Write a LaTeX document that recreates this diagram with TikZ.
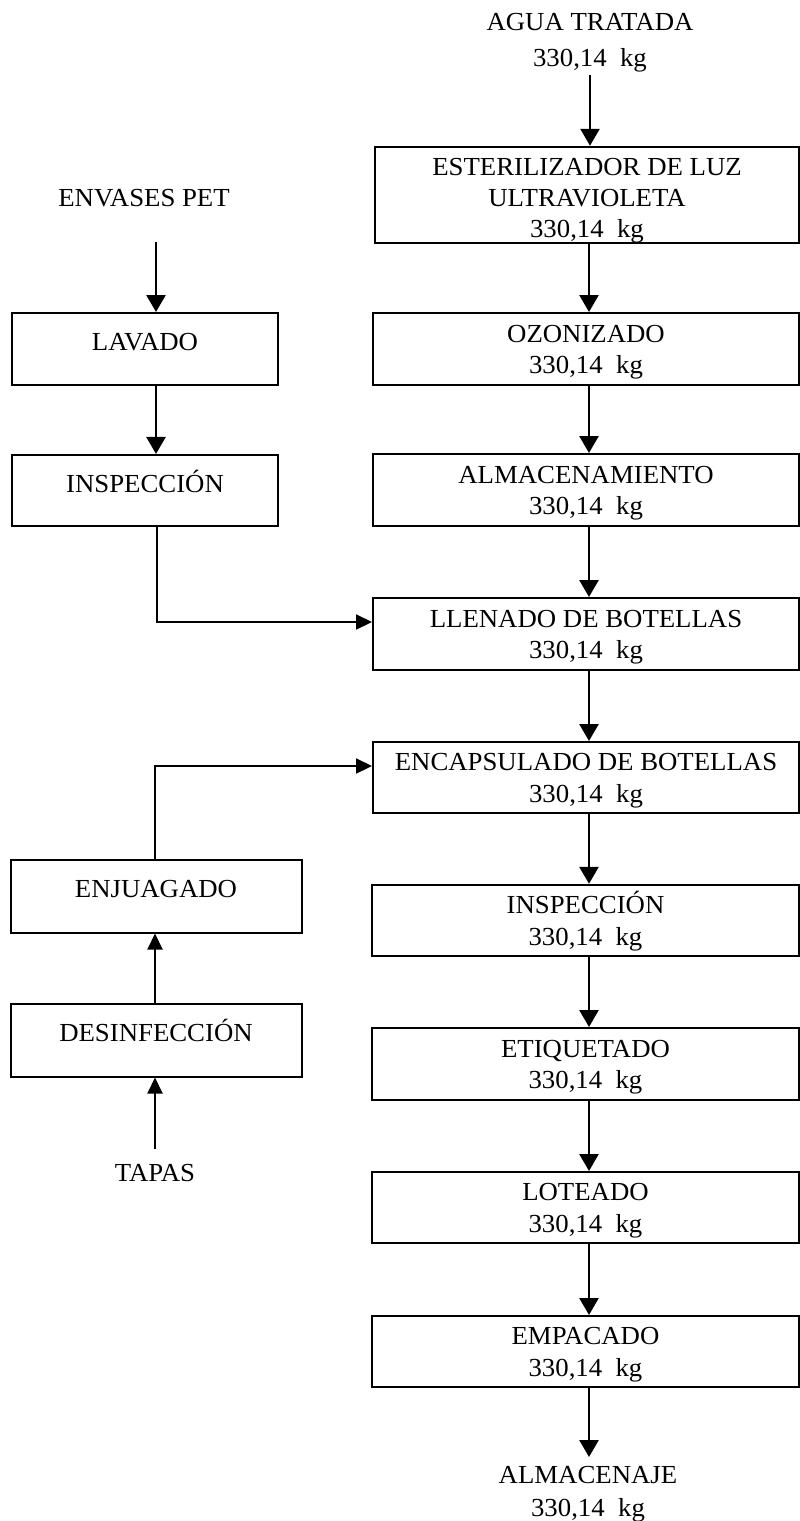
\documentclass[tikz,border=0pt]{standalone}
\usepackage{fontspec}
\setmainfont{Liberation Serif}[FakeStretch=1.03]
\usetikzlibrary{arrows.meta}
% centred lines of text: #1 line spacing, #2 vertical ink offset, #3 the lines
\newcommand{\flowlines}[3]{\raisebox{#2}[\height][\depth]{\fontsize{26}{#1}\selectfont\begin{tabular}{@{}c@{}}#3\end{tabular}}}
\begin{document}
\begin{tikzpicture}[x=1pt,y=-1pt,
  every node/.style={inner sep=0pt},
  procbox/.style={draw, line width=2pt, rectangle},
  rbox/.style={procbox, minimum width=426pt, minimum height=72pt},
  lbox/.style={procbox, minimum width=266pt, minimum height=72pt},
  cbox/.style={procbox, minimum width=291pt, minimum height=73pt},
  flow/.style={line width=2.6pt, -{Triangle[width=19pt,length=17pt]}},
  sideflow/.style={line width=2.2pt, -{Triangle[width=15pt,length=16pt]}}]
\useasboundingbox (0,0) rectangle (800,1521);

% column guides for the connectors
\coordinate (rc) at (589,0);
\coordinate (lc) at (156,0);

% water line (right column)
\node (agua) at (590,41.5) {\flowlines{36pt}{0pt}{AGUA TRATADA\\330,14\ \ kg}};
\node[procbox, minimum width=424pt, minimum height=96.5pt] (est) at (587,195)
  {\flowlines{31pt}{-5pt}{ESTERILIZADOR DE LUZ\\ULTRAVIOLETA\\330,14\ \ kg}};
\node[rbox] (ozo) at (586,349) {\flowlines{31.5pt}{-2.5pt}{OZONIZADO\\330,14\ \ kg}};
\node[rbox] (alm) at (586,490) {\flowlines{31.5pt}{-2.5pt}{ALMACENAMIENTO\\330,14\ \ kg}};
\node[rbox] (lle) at (586,634) {\flowlines{31.5pt}{-2.5pt}{LLENADO DE BOTELLAS\\330,14\ \ kg}};
\node[rbox, minimum height=71pt] (enc) at (586,777.5) {\flowlines{31.5pt}{-2.5pt}{ENCAPSULADO DE BOTELLAS\\330,14\ \ kg}};
\node[rbox, minimum width=427pt, minimum height=71pt] (ins) at (585.5,920.3) {\flowlines{32.5pt}{-2.5pt}{INSPECCIÓN\\330,14\ \ kg}};
\node[rbox, minimum width=427pt] (etq) at (585.5,1064) {\flowlines{31.5pt}{-2.5pt}{ETIQUETADO\\330,14\ \ kg}};
\node[rbox, minimum width=427pt, minimum height=71pt] (lot) at (585.5,1207.5) {\flowlines{31.5pt}{-2.5pt}{LOTEADO\\330,14\ \ kg}};
\node[rbox, minimum width=427pt, minimum height=71pt] (emp) at (585.5,1351.5) {\flowlines{31.5pt}{-2.5pt}{EMPACADO\\330,14\ \ kg}};
\node (alj) at (588,1493.8) {\flowlines{33pt}{0pt}{ALMACENAJE\\330,14\ \ kg}};

% bottle line (left column, top)
\node (env) at (144,199.9) {\flowlines{31pt}{0pt}{ENVASES PET}};
\node[lbox] (lav) at (145,349) {\flowlines{31pt}{5pt}{LAVADO}};
\node[lbox, minimum height=71.5pt] (ins1) at (145,490.7) {\flowlines{31pt}{5pt}{INSPECCIÓN}};

% cap line (left column, bottom)
\node[cbox] (enj) at (156,896) {\flowlines{31pt}{5pt}{ENJUAGADO}};
\node[cbox] (des) at (156,1040) {\flowlines{31pt}{5pt}{DESINFECCIÓN}};
\node (tap) at (155,1175.7) {\flowlines{31pt}{0pt}{TAPAS}};

% free ends of the feed arrows
\coordinate (aguaout) at (590,75);
\coordinate (envout) at (156,242);
\coordinate (tapout) at (155,1149);
\coordinate (aljin) at (589,1457);

% main flow
\draw[flow] (aguaout) -- (est.north -| aguaout);
\draw[flow] (est.south -| rc) -- (ozo.north -| rc);
\draw[flow] (ozo.south -| rc) -- (alm.north -| rc);
\draw[flow] (alm.south -| rc) -- (lle.north -| rc);
\draw[flow] (lle.south -| rc) -- (enc.north -| rc);
\draw[flow] (enc.south -| rc) -- (ins.north -| rc);
\draw[flow] (ins.south -| rc) -- (etq.north -| rc);
\draw[flow] (etq.south -| rc) -- (lot.north -| rc);
\draw[flow] (lot.south -| rc) -- (emp.north -| rc);
\draw[flow] (emp.south -| rc) -- (aljin);

% bottles
\draw[flow] (envout) -- (lav.north -| envout);
\draw[flow] (lav.south -| lc) -- (ins1.north -| lc);
\draw[sideflow] ([xshift=1pt]ins1.south -| lc) |- ([yshift=12pt]lle.west);

% caps
\draw[sideflow] (tapout) -- (des.south -| tapout);
\draw[sideflow] ([xshift=-1pt]des.north -| lc) -- ([xshift=-1pt]enj.south -| lc);
\draw[sideflow] ([xshift=-1pt]enj.north -| lc) |- ([yshift=11.5pt]enc.west);
\end{tikzpicture}
\end{document}
